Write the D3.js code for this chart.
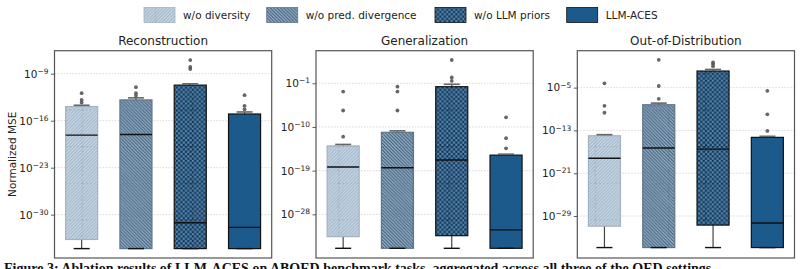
<!DOCTYPE html>
<html>
<head>
<meta charset="utf-8">
<script src="https://cdn.jsdelivr.net/npm/d3@7"></script>
<style>
  body { margin: 0; background: #fff; }
  svg { display: block; }
  svg text { font-family: "DejaVu Sans", sans-serif; }
</style>
</head>
<body>
<div id="chart"></div>
<script>
// methods and panels
var methods = ["w/o diversity", "w/o pred. divergence", "w/o LLM priors", "LLM-ACES"];
var panelTitles = ["Reconstruction", "Generalization", "Out-of-Distribution"];

// all values are log10(normalized MSE), one row per panel, one column per method
var whiskerLow = [[-35.06, -35.06, -35.06, -35.06], [-35.0, -35.0, -35.0, -35.0], [-34.9, -34.9, -34.9, -34.9]];
var q1 = [[-33.7, -35.06, -35.06, -35.06], [-32.6, -35.0, -32.4, -35.0], [-30.9, -34.9, -30.7, -34.9]];
var medians = [[-18.15, -18.05, -31.2, -31.9], [-18.25, -18.4, -16.8, -31.2], [-18.2, -16.3, -16.5, -30.3]];
var q3 = [[-13.9, -12.9, -10.7, -15.0], [-13.9, -11.1, -1.7, -15.8], [-14.0, -8.2, -1.9, -14.3]];
var whiskerHigh = [[-13.7, -12.6, -10.5, -14.7], [-13.6, -10.8, -1.2, -15.6], [-13.8, -7.9, -1.6, -14.1]];
var outliers = [
  [[-11.9, -12.9, -13.3], [-11.0, -11.9, -12.3], [-6.96, -8.0, -8.3], [-12.2, -13.8, -14.3]],
  [[-2.7, -6.6, -12.0], [-1.7, -2.7, -6.6], [3.8, 0.2, -0.5], [-8.0, -12.3, -14.4]],
  [[-4.2, -8.4, -9.7], [0.2, -4.7, -7.1], [-0.3, -0.6, -1.0], [-5.6, -10.0, -13.1]]
];

// axis ranges and ticks (exponents)
var yDomains = [[-36.46, -5.57], [-37.0, 5.72], [-36.85, 1.9]];
var yTicks = [[-9, -16, -23, -30], [-1, -10, -19, -28], [-5, -13, -21, -29]];

var svgWidth = 803;
var svgHeight = 269;

var panelLeft = [54.5, 316, 577.3];
var panelWidth = 217.2;
var plotTop = 50.7;
var plotBottom = 258;

var svg = d3.select("#chart")
  .append("svg")
  .attr("width", svgWidth)
  .attr("height", svgHeight);

var defs = svg.append("defs");

// hatch tiles are anchored to the whole figure, like matplotlib does it
var T = 36.65;
var tileX = 8.5, tileY = 36.05;

function tileEdges(p, col) {
  p.append("line").attr("x1", 0).attr("y1", 0).attr("x2", T).attr("y2", 0)
    .attr("stroke", col).attr("stroke-width", 0.8).attr("stroke-dasharray", "2,2");
  p.append("line").attr("x1", 0).attr("y1", 0).attr("x2", 0).attr("y2", T)
    .attr("stroke", col).attr("stroke-width", 0.8).attr("stroke-dasharray", "2,2");
}

function diagPattern(id, bg, fg, dir, n, sw, edgeCol) {
  var p = defs.append("pattern")
    .attr("id", id)
    .attr("patternUnits", "userSpaceOnUse")
    .attr("x", tileX).attr("y", tileY)
    .attr("width", T).attr("height", T);
  p.append("rect").attr("width", T).attr("height", T).attr("fill", bg);
  var s = T / n;
  for (var k = -n; k <= 2 * n; k++) {
    var x0 = k * s;
    if (dir === "/") {
      p.append("line").attr("x1", x0 - T).attr("y1", T).attr("x2", x0).attr("y2", 0)
        .attr("stroke", fg).attr("stroke-width", sw);
    } else {
      p.append("line").attr("x1", x0 - T).attr("y1", 0).attr("x2", x0).attr("y2", T)
        .attr("stroke", fg).attr("stroke-width", sw);
    }
  }
  if (edgeCol) tileEdges(p, edgeCol);
}

diagPattern("hatch0", "#c6d5e2", "#8ea8c0", "/", 11, 1.0, "#6e8aa3");
diagPattern("hatch1", "#91b2ce", "#2c4964", "\\", 11, 1.1, "#3a5670");

// checker pattern for w/o LLM priors
(function() {
  var p = defs.append("pattern")
    .attr("id", "hatch2")
    .attr("patternUnits", "userSpaceOnUse")
    .attr("x", tileX).attr("y", tileY)
    .attr("width", T).attr("height", T);
  p.append("rect").attr("width", T).attr("height", T).attr("fill", "#183450");
  var n = 16, c = T / n;
  for (var i = 0; i < n; i++) {
    for (var j = 0; j < n; j++) {
      if ((i + j) % 2 === 0) {
        p.append("rect").attr("x", i * c).attr("y", j * c)
          .attr("width", c).attr("height", c).attr("fill", "#5189b6");
      }
    }
  }
  tileEdges(p, "#10243a");
})();

var fills = ["url(#hatch0)", "url(#hatch1)", "url(#hatch2)", "#1b5a8a"];
var edgeColors = ["#9aabbb", "#52677c", "#111", "#111"];
var boxOpacity = [0.9, 0.9, 1, 1];

// legend
var legendX = [144, 266.7, 435, 566.7];
var legend = svg.append("g");
legend.selectAll("rect")
  .data(methods)
  .enter()
  .append("rect")
  .attr("x", (d, i) => legendX[i])
  .attr("y", 7.5)
  .attr("width", 31)
  .attr("height", 15)
  .attr("fill", (d, i) => fills[i])
  .attr("stroke", (d, i) => edgeColors[i])
  .attr("stroke-width", 0.8)
  .attr("opacity", (d, i) => boxOpacity[i]);
legend.selectAll("text")
  .data(methods)
  .enter()
  .append("text")
  .attr("x", (d, i) => legendX[i] + 39)
  .attr("y", 19)
  .attr("font-size", "10.5px")
  .attr("fill", "#222")
  .text(d => d);

panelTitles.forEach(function(title, p) {
  var x0 = panelLeft[p], x1 = panelLeft[p] + panelWidth;

  var x = d3.scaleBand()
    .domain(methods)
    .range([x0, x1])
    .paddingInner(0.41)
    .paddingOuter(0.205);

  var y = d3.scaleLog()
    .domain([Math.pow(10, yDomains[p][0]), Math.pow(10, yDomains[p][1])])
    .range([plotBottom, plotTop]);

  var g = svg.append("g");

  // grid
  g.selectAll(".grid")
    .data(yTicks[p])
    .enter()
    .append("line")
    .attr("x1", x0).attr("x2", x1)
    .attr("y1", d => y(Math.pow(10, d)))
    .attr("y2", d => y(Math.pow(10, d)))
    .attr("stroke", "#cfcfcf")
    .attr("stroke-width", 0.8)
    .attr("stroke-dasharray", "1.5,1.5");

  var bw = x.bandwidth();

  methods.forEach(function(m, i) {
    var cx = x(m) + bw / 2;
    var yv = v => y(Math.pow(10, v));
    var bg = g.append("g");

    // whiskers
    bg.append("line")
      .attr("x1", cx).attr("x2", cx)
      .attr("y1", yv(q1[p][i])).attr("y2", yv(whiskerLow[p][i]))
      .attr("stroke", "#444").attr("stroke-width", 1.2);
    bg.append("line")
      .attr("x1", cx).attr("x2", cx)
      .attr("y1", yv(q3[p][i])).attr("y2", yv(whiskerHigh[p][i]))
      .attr("stroke", "#555").attr("stroke-width", 1.2);

    // box
    bg.append("rect")
      .attr("x", x(m))
      .attr("width", bw)
      .attr("y", yv(q3[p][i]))
      .attr("height", yv(q1[p][i]) - yv(q3[p][i]))
      .attr("fill", fills[i])
      .attr("opacity", boxOpacity[i])
      .attr("stroke", edgeColors[i])
      .attr("stroke-width", 1.2);

    // caps
    bg.append("line")
      .attr("x1", cx - bw / 4).attr("x2", cx + bw / 4)
      .attr("y1", yv(whiskerLow[p][i])).attr("y2", yv(whiskerLow[p][i]))
      .attr("stroke", "#111").attr("stroke-width", 1.4);
    bg.append("line")
      .attr("x1", cx - bw / 4).attr("x2", cx + bw / 4)
      .attr("y1", yv(whiskerHigh[p][i])).attr("y2", yv(whiskerHigh[p][i]))
      .attr("stroke", "#666").attr("stroke-width", 1.6);

    // median
    bg.append("line")
      .attr("x1", x(m)).attr("x2", x(m) + bw)
      .attr("y1", yv(medians[p][i])).attr("y2", yv(medians[p][i]))
      .attr("stroke", "#111").attr("stroke-width", 1.4);

    // outliers
    bg.selectAll("circle")
      .data(outliers[p][i])
      .enter()
      .append("circle")
      .attr("cx", cx)
      .attr("cy", d => yv(d))
      .attr("r", 1.9)
      .attr("fill", "#555")
      .attr("opacity", 0.9);
  });

  // y axis
  var yAxis = d3.axisLeft(y)
    .tickValues(yTicks[p].map(d => Math.pow(10, d)))
    .tickSize(3.5)
    .tickPadding(2)
    .tickFormat("");
  var ax = g.append("g")
    .attr("transform", `translate(${x0}, 0)`)
    .call(yAxis);
  ax.select(".domain").remove();
  ax.selectAll(".tick line").attr("stroke", "#333").attr("stroke-width", 0.8);
  ax.selectAll(".tick")
    .each(function(d, k) {
      var t = d3.select(this).append("text")
        .attr("x", -6)
        .attr("dy", "0.32em")
        .attr("text-anchor", "end")
        .attr("fill", "#222")
        .attr("font-size", "10.5px");
      t.append("tspan").text("10");
      t.append("tspan")
        .attr("dy", "-0.5em")
        .attr("font-size", "7.5px")
        .text("\u2212" + Math.abs(yTicks[p][k]));
    });

  // frame
  g.append("rect")
    .attr("x", x0).attr("y", plotTop)
    .attr("width", panelWidth).attr("height", plotBottom - plotTop)
    .attr("fill", "none")
    .attr("stroke", "#555")
    .attr("stroke-width", 1.2);

  // title
  g.append("text")
    .attr("x", (x0 + x1) / 2)
    .attr("y", 45)
    .attr("text-anchor", "middle")
    .attr("font-size", "12px")
    .attr("fill", "#222")
    .text(title);
});

// y label
svg.append("text")
  .attr("transform", `translate(16, ${(plotTop + plotBottom) / 2}) rotate(-90)`)
  .attr("text-anchor", "middle")
  .attr("font-size", "10.5px")
  .attr("fill", "#222")
  .text("Normalized MSE");

// figure caption below the chart, mostly cropped like in the source
svg.append("text")
  .attr("x", 4)
  .attr("y", 273)
  .attr("style", "font-family: 'Liberation Serif', serif")
  .attr("font-weight", "bold")
  .attr("font-size", "14px")
  .attr("fill", "#111")
  .text("Figure 3: Ablation results of LLM-ACES on ABOED benchmark tasks, aggregated across all three of the OED settings.");
</script>
</body>
</html>
